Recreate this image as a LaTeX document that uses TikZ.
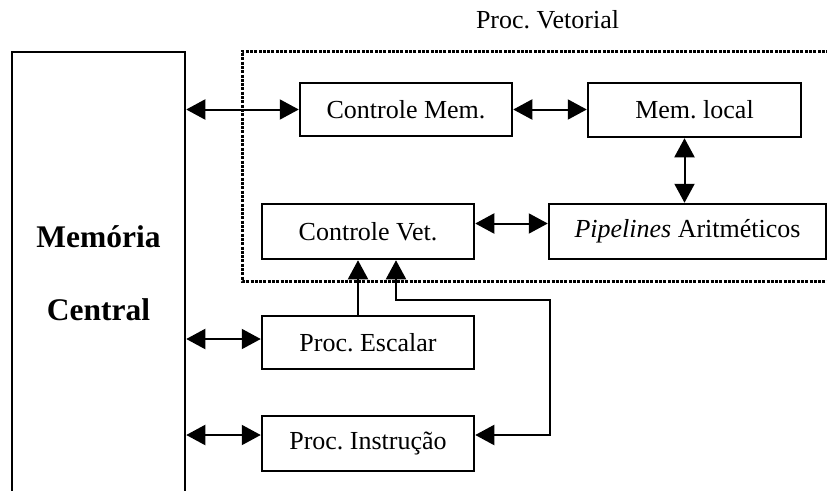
\documentclass[tikz,border=0pt]{standalone}
\usepackage{fontspec}
\setmainfont{Liberation Serif}
\frenchspacing
\usetikzlibrary{arrows.meta}
\tikzset{
  unit/.style={draw, line width=2.5pt, rectangle, inner sep=0pt,
    minimum width=212pt, minimum height=54pt,
    font=\fontsize{26}{31}\selectfont},
  link/.style={line width=2pt},
  biarrow/.style={link, {Triangle[length=19pt,width=20pt]}-{Triangle[length=19pt,width=20pt]}},
  onearrow/.style={link, -{Triangle[length=19pt,width=20pt]}},
  frame/.style={line width=3pt, dash pattern=on 3pt off 1.3pt},
}
\begin{document}
\begin{tikzpicture}[x=1pt,y=-1pt]
  \useasboundingbox (0,0) rectangle (827,490);
  \clip (0,0) rectangle (827,490);

  % vector processor boundary
  \draw[frame] (842,51) -- (242,51) -- (242,281) -- (842,281);
  \node[font=\fontsize{26}{31}\selectfont] (pvlabel) at (547.5,20) {Proc. Vetorial};

  % main memory
  \node[draw, line width=2.5pt, inner sep=0pt, minimum width=173pt, minimum height=443pt,
        align=center, font=\bfseries\fontsize{31.5}{38}\selectfont]
        (mem) at (98.5,273.5) {Memória\\[35pt]Central};

  % units
  \node[unit, minimum height=53pt] (cmem) at (406,109.5) {Controle Mem.};
  \node[unit, minimum width=213pt] (mloc) at (694.5,110) {Mem. local};
  \node[unit, minimum width=277pt, minimum height=55pt] (pipe) at (687.5,231.5) {\textit{Pipelines} Aritméticos};
  \node[unit, minimum height=55pt] (cvet) at (368,231.5) {Controle Vet.};
  \node[unit, minimum height=53pt] (pesc) at (368,342.5) {Proc. Escalar};
  \node[unit, minimum height=55pt] (pins) at (368,443.5) {Proc. Instrução};

  % connections
  \draw[biarrow] (mem.east |- cmem.west) -- (cmem.west);
  \draw[biarrow] (cmem.east) -- (cmem.east -| mloc.west);
  \draw[biarrow] ([xshift=-10pt]mloc.south) -- ([xshift=-10pt]mloc.south |- pipe.north);
  \draw[biarrow] ([yshift=8pt]cvet.east) -- ([yshift=8pt]cvet.east -| pipe.west);
  \draw[biarrow] ([yshift=3.5pt]pesc.west -| mem.east) -- ([yshift=3.5pt]pesc.west);
  \draw[biarrow] ([yshift=8.5pt]pins.west -| mem.east) -- ([yshift=8.5pt]pins.west);

  \draw[onearrow] ([xshift=-10pt]pesc.north) -- ([xshift=-10pt]cvet.south);

  \coordinate (turn) at (550,300);
  \coordinate (cvin) at ([xshift=28pt]cvet.south);
  \coordinate (pinsin) at ([yshift=8.5pt]pins.east);
  \draw[biarrow] (cvin) -- (cvin |- turn) -- (turn) -- (turn |- pinsin) -- (pinsin);
\end{tikzpicture}
\end{document}
